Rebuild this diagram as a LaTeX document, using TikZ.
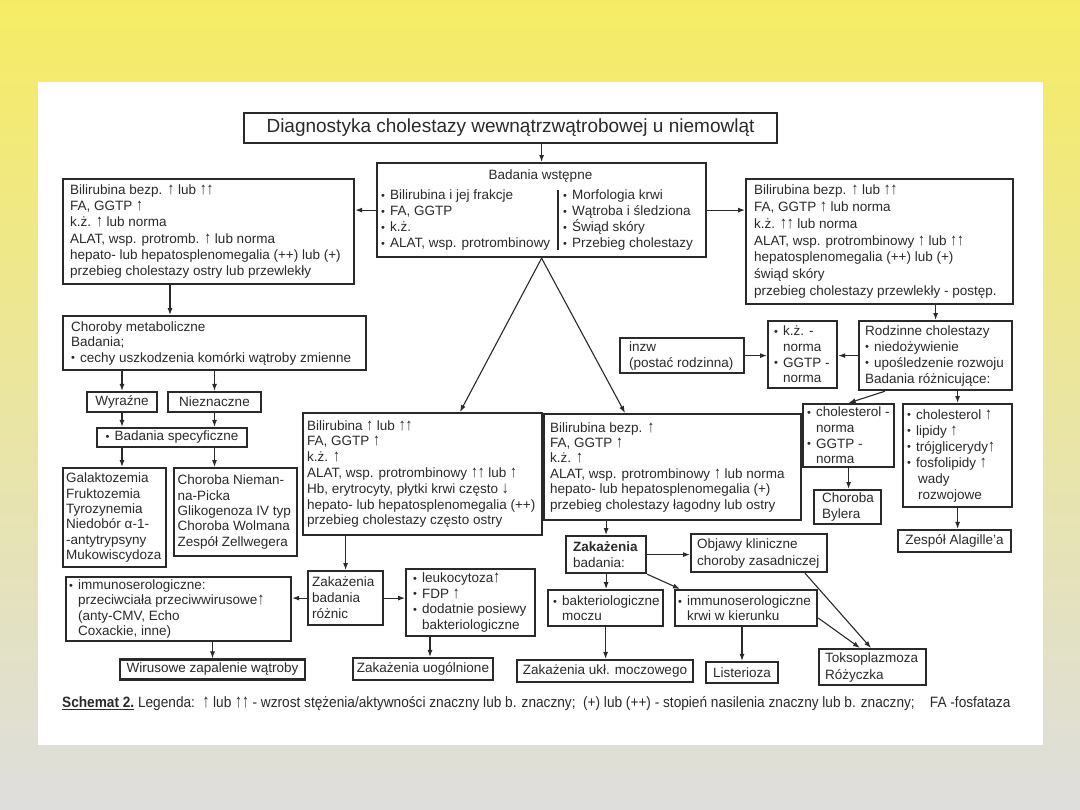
\documentclass[tikz,border=0pt]{standalone}
\usepackage{fontspec}
\usepackage{graphicx}
\setmainfont{Liberation Sans}
\newfontfamily\narrowfont[FakeStretch=0.91]{Liberation Sans}
\usetikzlibrary{arrows.meta,calc}
\definecolor{ink}{HTML}{2A2A2A}
\definecolor{topc}{RGB}{246,236,100}
\definecolor{botc}{RGB}{222,222,222}
\catcode`↑=13
\def↑{\scalebox{1}[1.25]{\char"2191\relax}}
\catcode`↓=13
\def↓{\scalebox{1}[1.25]{\char"2193\relax}}
\newcommand\fsz[1]{\fontsize{13.5bp}{#1bp}\selectfont}
\newcommand\bul{\makebox[9bp][l]{\raisebox{0.3bp}{\fontsize{11bp}{11bp}\selectfont •}}}
\newcommand\ind{\hspace*{9bp}}
\newcommand\tbox[8][16]{%
  \node[frame, minimum width=#5bp, minimum height=#6bp, anchor=north west] (#2) at (#3,#4) {};
  \node[txt, font=\fsz{#1}, anchor=west, xshift=#7bp] (#2t) at (#2.west) {#8};}
\begin{document}
\begin{tikzpicture}[x=1bp,y=-1bp,
  frame/.style={draw=ink, line width=2.2bp, inner sep=0pt},
  txt/.style={text=ink, align=left, inner sep=0pt},
  sbox/.style={frame, text=ink, font=\fsz{16}},
  arr/.style={draw=ink, line width=1.1bp, -{Latex[length=7bp,width=5bp]}}]
\useasboundingbox (0,0) rectangle (1080,810);
\shade[top color=topc, bottom color=botc] (0,0) rectangle (1080,810);
\fill[white] (38,82) rectangle (1043,745);

% title
\node[sbox, font=\fontsize{19bp}{22bp}\selectfont, minimum width=533bp, minimum height=30bp] (title) at (510.5,128) {Diagnostyka cholestazy wewnątrzwątrobowej u niemowląt};

% Badania wstepne
\node[frame, minimum width=329bp, minimum height=94bp, anchor=north west] (BW) at (376,162) {};
\node[txt, font=\fsz{16}] (BWh) at (540.5,176) {Badania wstępne};
\node[txt, font=\fsz{16}, anchor=west] (BWl) at (381,220) {\bul Bilirubina i jej frakcje\\\bul FA, GGTP\\\bul k.ż.\\\bul ALAT, wsp. protrombinowy};
\node[txt, font=\fsz{16}, anchor=west] (BWr) at (563,220) {\bul Morfologia krwi\\\bul Wątroba i śledziona\\\bul Świąd skóry\\\bul Przebieg cholestazy};
\draw[ink, line width=2bp] (558,190) -- (558,250);

% left branch
\tbox[16.2]{L1}{62}{178}{291}{105}{8}{Bilirubina bezp. ↑ lub ↑↑\\FA, GGTP ↑\\k.ż. ↑ lub norma\\ALAT, wsp. protromb. ↑ lub norma\\hepato- lub hepatosplenomegalia (++) lub (+)\\przebieg cholestazy ostry lub przewlekły}
\tbox[15.5]{M}{62}{315}{303}{54}{9}{Choroby metaboliczne\\Badania;\\\bul cechy uszkodzenia komórki wątroby zmienne}
\node[sbox, minimum width=70bp, minimum height=20bp] (Wy) at (122,402) {Wyraźne};
\node[sbox, minimum width=93bp, minimum height=20bp] (Ni) at (214.5,402) {Nieznaczne};
\node[sbox, minimum width=150bp, minimum height=19bp] (BS) at (172,437.5) {\bul Badania specyficzne};
\tbox[15.3]{Gal}{62}{467}{103}{99}{4}{Galaktozemia\\Fruktozemia\\Tyrozynemia\\Niedobór α-1-\\-antytrypsyny\\Mukowiscydoza}
\tbox[15.3]{Nie}{173}{467}{123}{88}{4.5}{Choroba Nieman-\\na-Picka\\Glikogenoza IV typ\\Choroba Wolmana\\Zespół Zellwegera}

% right branch
\tbox[16.8]{R1}{745}{178}{267}{125}{9}{Bilirubina bezp. ↑ lub ↑↑\\FA, GGTP ↑ lub norma\\k.ż. ↑↑ lub norma\\ALAT, wsp. protrombinowy ↑ lub ↑↑\\hepatosplenomegalia (++) lub (+)\\świąd skóry\\przebieg cholestazy przewlekły - postęp.}
\tbox{RC}{858}{320}{153}{69}{7}{Rodzinne cholestazy\\\bul niedożywienie\\\bul upośledzenie rozwoju\\Badania różnicujące:}
\tbox[15.7]{KZ}{767}{320}{69}{67}{7}{\bul k.ż. -\\\ind norma\\\bul GGTP -\\\ind norma}
\tbox{inzw}{619}{337}{124}{35}{10}{inzw\\(postać rodzinna)}
\tbox[15.7]{CN}{802}{403}{91}{63}{5}{\bul cholesterol -\\\ind norma\\\bul GGTP -\\\ind norma}
\tbox{CB}{813}{489}{67}{34}{9}{Choroba\\Bylera}
\tbox{CU}{902}{403}{109}{103}{5}{\bul cholesterol ↑\\\bul lipidy ↑\\\bul trójglicerydy↑\\\bul fosfolipidy ↑\\\ind\hspace*{2bp}wady\\\ind\hspace*{2bp}rozwojowe}
\node[sbox, minimum width=113bp, minimum height=22bp] (ZA) at (954.5,541) {Zespół Alagille'a};

% middle
\tbox[15.8]{ML}{302}{412}{239}{122}{5}{Bilirubina ↑ lub ↑↑\\FA, GGTP ↑\\k.ż. ↑\\ALAT, wsp. protrombinowy ↑↑ lub ↑\\Hb, erytrocyty, płytki krwi często ↓\\hepato- lub hepatosplenomegalia (++)\\przebieg cholestazy często ostry}
\tbox[15.4]{MR}{543}{413}{257}{106}{7}{Bilirubina bezp. ↑\\FA, GGTP ↑\\k.ż. ↑\\ALAT, wsp. protrombinowy ↑ lub norma\\hepato- lub hepatosplenomegalia (+)\\przebieg cholestazy łagodny lub ostry}

% bottom left
\tbox{ZBR}{307}{570}{75}{54}{5}{Zakażenia\\badania\\różnic}
\tbox[15.3]{IS}{65}{576}{225}{64}{4}{\bul immunoserologiczne:\\\ind przeciwciała przeciwwirusowe↑\\\ind (anty-CMV, Echo\\\ind Coxackie, inne)}
\tbox[15.7]{LK}{405}{568}{129}{67}{8}{\bul leukocytoza↑\\\bul FDP ↑\\\bul dodatnie posiewy\\\ind bakteriologiczne}
\node[sbox, minimum width=185bp, minimum height=20bp] (Wir) at (212.5,669.5) {Wirusowe zapalenie wątroby};
\node[sbox, minimum width=140bp, minimum height=22bp] (ZU) at (423,669) {Zakażenia uogólnione};

% bottom right
\tbox{ZB}{565}{535}{80}{37}{8}{\textbf{Zakażenia}\\badania:}
\tbox[17]{OK}{690}{533}{136}{38}{7}{Objawy kliniczne\\choroby zasadniczej}
\tbox[15]{BM}{547}{589}{115}{36}{6}{\bul bakteriologiczne\\\ind moczu}
\tbox[15]{IK}{674}{589}{142}{36}{4}{\bul immunoserologiczne\\\ind krwi w kierunku}
\node[sbox, minimum width=176bp, minimum height=22bp] (ZUM) at (605,671) {Zakażenia ukł. moczowego};
\node[sbox, minimum width=72bp, minimum height=21bp] (Lis) at (742,672.5) {Listerioza};
\tbox[17]{Tok}{818}{648}{107}{36}{7}{Toksoplazmoza\\Różyczka}

% caption
\node[txt, anchor=west, font=\narrowfont\fontsize{15bp}{17bp}\selectfont] (cap) at (62,704) {\underline{\textbf{Schemat 2.}} Legenda:\ \ ↑ lub ↑↑ - wzrost stężenia/aktywności znaczny lub b. znaczny;\ \ (+) lub (++) - stopień nasilenia znaczny lub b. znaczny;\ \ \ \ FA -fosfataza};

% connectors
\coordinate (x460) at (460,0);
\coordinate (x625) at (625,0);
\coordinate (x170) at (170,0);
\coordinate (x430) at (430,0);
\coordinate (x805) at (805,0);
\coordinate (x871) at (871,0);
\coordinate (x860) at (860,0);
\coordinate (x885) at (885,0);
\coordinate (y618) at (0,618);
\draw[arr] (BW.north |- title.south) -- (BW.north);
\draw[arr] (BW.west) -- (BW.west -| L1.east);
\draw[arr] (BW.east) -- (BW.east -| R1.west);
\draw[arr] (BW.south) -- (ML.north -| x460);
\draw[arr] (BW.south) -- (MR.north -| x625);
\draw[arr] (L1.south -| x170) -- (M.north -| x170);
\draw[arr] (Wy.north |- M.south) -- (Wy.north);
\draw[arr] (Ni.north |- M.south) -- (Ni.north);
\draw[arr] (Wy.south) -- (Wy.south |- BS.north);
\draw[arr] (Ni.south) -- (Ni.south |- BS.north);
\draw[arr] (Wy.south |- BS.south) -- (Wy.south |- Gal.north);
\draw[arr] (Ni.south |- BS.south) -- (Ni.south |- Nie.north);
\draw[arr] (ZBR.north |- ML.south) -- (ZBR.north);
\draw[arr] (ZBR.west) -- (ZBR.west -| IS.east);
\draw[arr] (ZBR.east) -- (ZBR.east -| LK.west);
\draw[arr] (Wir.north |- IS.south) -- (Wir.north);
\draw[arr] (LK.south -| x430) -- (ZU.north -| x430);
\draw[arr] (ZB.north |- MR.south) -- (ZB.north);
\draw[arr] (ZB.east) -- (ZB.east -| OK.west);
\draw[arr] (ZB.south) -- (ZB.south |- BM.north);
\draw[arr] (ZB.south east) -- ([xshift=6bp]IK.north west);
\draw[arr] (BM.south) -- (BM.south |- ZUM.north);
\draw[arr] (Lis.north |- IK.south) -- (Lis.north);
\draw[arr] (OK.south -| x805) -- (Tok.north -| x871);
\draw[arr] (IK.east |- y618) -- (Tok.north -| x860);
\draw[arr] (RC.north |- R1.south) -- (RC.north);
\draw[arr] (RC.west) -- (RC.west -| KZ.east);
\draw[arr] (inzw.east) -- (inzw.east -| KZ.west);
\draw[arr] (RC.south -| x885) -- (CN.north);
\draw[arr] (CU.north |- RC.south) -- (CU.north);
\draw[arr] (CN.south) -- (CN.south |- CB.north);
\draw[arr] (CU.south) -- (CU.south |- ZA.north);
\end{tikzpicture}
\end{document}
